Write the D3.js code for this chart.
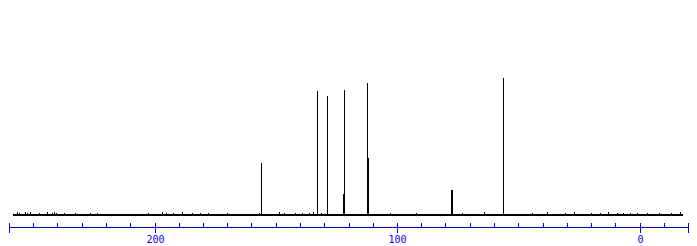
<!DOCTYPE html>
<html>
<head>
<meta charset="utf-8">
<script src="https://cdn.jsdelivr.net/npm/d3@7"></script>
<style>
  body { margin: 0; background: #fff; }
  svg { display: block; }
  .axis text { font-family: "DejaVu Sans Mono", "Liberation Mono", monospace; font-size: 10px; fill: #0000ff; }
  .axis line, .axis path { stroke: #0000ff; }
</style>
</head>
<body>
<div id="chart"></div>
<script>
// 13C spectrum, shifts in ppm, intensity relative to the tallest line (=100)
const peakShifts  = [155.9, 133.0, 128.7, 122.1, 121.75, 112.2, 111.85, 77.7, 77.3, 56.1];
const peakHeights = [37.7,  90.5,  86.9,  15.3,  91.2,   96.4,  41.6,   18.2, 18.4, 100];

// little baseline blips
const noiseShifts  = [256.7, 255.8, 253.3, 252.6, 251.5, 247.8, 244.4, 242.3, 241.6, 240.5, 237.5, 232.7,
                      226.5, 223.8, 202.6, 197.0, 195.3, 192.2, 188.7, 184.6, 181.2, 177.9, 170.1, 157.1,
                      148.5, 146.4, 142.0, 139.0, 136.1, 134.7, 131.4, 102.8, 92.1, 73.2, 64.0, 44.2,
                      38.2, 30.6, 27.2, 20.0, 16.2, 12.9, 9.3, 6.7, 3.8, 1.1, -3.1, -8.1, -13.1, -16.8];
const noiseHeights = [1.2, 1.0, 1.5, 1.0, 1.2, 1.0, 1.3, 1.0, 1.2, 1.0, 1.0, 0.8,
                      1.0, 0.8, 1.0, 1.2, 1.0, 1.0, 1.2, 1.0, 0.8, 1.0, 0.8, 1.0,
                      1.2, 1.0, 0.8, 1.0, 1.0, 1.2, 1.0, 1.0, 0.8, 1.0, 1.2, 1.0,
                      1.2, 1.0, 1.5, 1.0, 1.0, 1.2, 1.0, 1.0, 1.0, 0.8, 1.0, 0.8, 1.0, 1.5];

const baseFrom = 258.3, baseTo = -17.9;

const axisMin = 260, axisMax = -20;
const minorTicks = d3.range(260, -21, -10);
const majorTicks = [260, 200, 100, 0, -20];
const labelTicks = [200, 100, 0];

const width = 697, height = 246;

const svg = d3.select("#chart").append("svg")
    .attr("width", width)
    .attr("height", height);

const x = d3.scaleLinear()
    .domain([axisMin, axisMax])
    .range([9, 688]);

const y = d3.scaleLinear()
    .domain([0, 100])
    .range([215, 78]);

const px = v => Math.round(x(v)) + 0.5;

const spec = svg.append("g")
    .attr("shape-rendering", "crispEdges");

// baseline
spec.append("line")
    .attr("x1", x(baseFrom))
    .attr("x2", x(baseTo))
    .attr("y1", y(0))
    .attr("y2", y(0))
    .attr("stroke", "#000")
    .attr("stroke-width", 2);

// noise blips
spec.selectAll(".noise")
    .data(noiseShifts)
    .join("line")
    .attr("class", "noise")
    .attr("x1", px)
    .attr("x2", px)
    .attr("y1", y(0))
    .attr("y2", (d, i) => y(noiseHeights[i]) - 1)
    .attr("stroke", "#000")
    .attr("stroke-width", 1);

// peaks
spec.selectAll(".peak")
    .data(peakShifts)
    .join("line")
    .attr("class", "peak")
    .attr("x1", px)
    .attr("x2", px)
    .attr("y1", y(0))
    .attr("y2", (d, i) => y(peakHeights[i]))
    .attr("stroke", "#000")
    .attr("stroke-width", 1);

// axis: minor ticks pointing up
const axisY = 226.5;

const minorAxis = d3.axisBottom(x)
    .tickValues(minorTicks)
    .tickSize(-4)
    .tickSizeOuter(0)
    .tickFormat("");

const minor = svg.append("g")
    .attr("class", "axis")
    .attr("shape-rendering", "crispEdges")
    .attr("transform", "translate(0," + axisY + ")")
    .call(minorAxis);

minor.selectAll(".tick").attr("transform", d => "translate(" + px(d) + ",0)");

// major ticks crossing the line
const majorAxis = d3.axisBottom(x)
    .tickValues(majorTicks)
    .tickSize(6)
    .tickSizeOuter(0)
    .tickPadding(3)
    .tickFormat(d => labelTicks.includes(d) ? d : "");

const major = svg.append("g")
    .attr("class", "axis")
    .attr("shape-rendering", "crispEdges")
    .attr("transform", "translate(0," + axisY + ")")
    .call(majorAxis);

major.select(".domain").remove();
major.selectAll(".tick").attr("transform", d => "translate(" + px(d) + ",0)");
major.selectAll(".tick line").attr("y1", -4);
</script>
</body>
</html>
